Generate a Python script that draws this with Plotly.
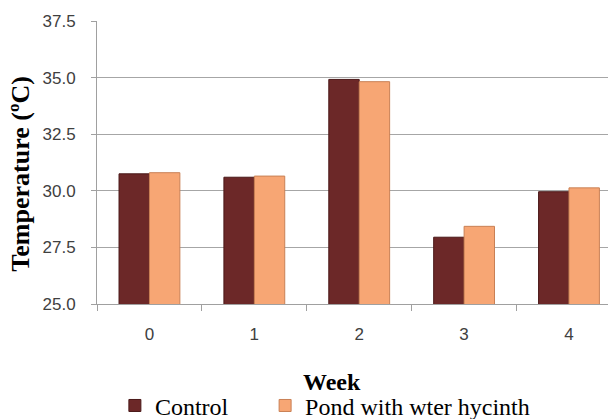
import plotly.graph_objects as go

# Weekly water temperature readings
weeks = ["0", "1", "2", "3", "4"]
control = [30.75, 30.60, 34.92, 27.95, 29.96]
pond_hyacinth = [30.80, 30.65, 34.82, 28.43, 30.13]

series_names = ["Control", "Pond with wter hycinth"]
y_ticks = [25.0, 27.5, 30.0, 32.5, 35.0, 37.5]

fig = go.Figure()
fig.add_trace(go.Bar(
    x=weeks, y=control, name=series_names[0], legend="legend",
    marker=dict(color="#6C2828", line=dict(color="#4A1818", width=1)),
))
fig.add_trace(go.Bar(
    x=weeks, y=pond_hyacinth, name=series_names[1], legend="legend2",
    marker=dict(color="#F7A674", line=dict(color="#C98055", width=1)),
))

axis_font = dict(family="Liberation Sans", size=17, color="#404040")
legend_font = dict(family="Liberation Serif", size=24, color="black")

fig.update_layout(
    width=608, height=419,
    margin=dict(l=97, r=0, t=21, b=115, autoexpand=False),
    paper_bgcolor="white", plot_bgcolor="white",
    barmode="group", bargap=0.42, bargroupgap=0,
    showlegend=True,
    legend=dict(
        orientation="h", x=0.035, y=-0.36, xanchor="left", yanchor="middle",
        font=legend_font, bgcolor="rgba(0,0,0,0)",
    ),
    legend2=dict(
        orientation="h", x=0.329, y=-0.36, xanchor="left", yanchor="middle",
        font=legend_font, bgcolor="rgba(0,0,0,0)",
    ),
    xaxis=dict(
        type="category", range=[-0.5, 4.372],
        showline=True, linecolor="#A0A0A0", linewidth=1,
        ticks="outside", tickson="boundaries", ticklen=6, tickcolor="#A0A0A0",
        tickfont=axis_font, ticklabelstandoff=15,
        showgrid=False, fixedrange=True,
    ),
    yaxis=dict(
        range=[25, 37.5], tickvals=y_ticks, tickformat=".1f",
        showline=True, linecolor="#A0A0A0", linewidth=1,
        ticks="outside", ticklen=5, tickcolor="#A0A0A0",
        tickfont=axis_font, ticklabelstandoff=12,
        showgrid=True, gridcolor="#A6A6A6", gridwidth=1,
        zeroline=False, fixedrange=True,
    ),
    annotations=[
        dict(text="Temperature (ºC)", xref="paper", yref="paper",
             x=-0.149, y=0.46, textangle=-90, showarrow=False,
             xanchor="center", yanchor="middle",
             font=dict(family="Liberation Serif", size=26, color="black", weight="bold")),
        dict(text="Week", xref="paper", yref="paper",
             x=0.4593, y=-0.276, showarrow=False,
             xanchor="center", yanchor="middle",
             font=dict(family="Liberation Serif", size=24, color="black", weight="bold")),
    ],
)

fig.write_html("out.html")
